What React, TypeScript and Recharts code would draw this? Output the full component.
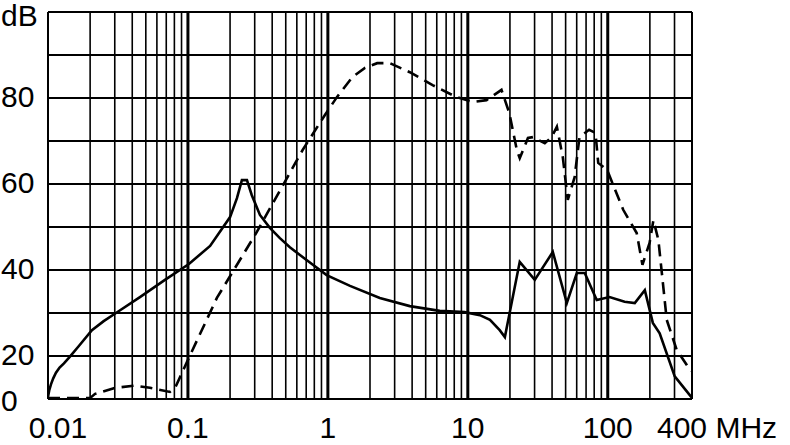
import { LineChart, Line, XAxis, YAxis, CartesianGrid, ReferenceLine } from 'recharts'

// frequencies in MHz, levels in dB
const SOLID_FREQ = [
  0.01, 0.0102, 0.0105, 0.0109, 0.0114, 0.0121, 0.013, 0.0144, 0.0165, 0.0206,
  0.025, 0.0306, 0.0454, 0.0685, 0.1016, 0.144,
  0.2, 0.224, 0.243, 0.264, 0.286, 0.327, 0.385, 0.454, 0.535, 0.685,
  0.98, 1.44, 2.35, 3.85, 6.3, 9.5, 12.2, 14.4, 16.9, 18.4,
  23.5, 30.1, 40.5, 51, 60.1, 68.5, 83.4, 103, 132, 156,
  184, 210, 235, 301, 400,
]
const SOLID_DB = [
  1, 4, 6.8, 9.6, 12.2, 14.6, 16.6, 19.8, 22.2, 26,
  28.1, 30, 33.7, 37.7, 41.4, 45.6,
  52.3, 56.7, 60.9, 60.9, 57.4, 52.8, 49.8, 47.4, 45.3, 42.6,
  38.8, 36.3, 33.5, 31.6, 30.5, 30.2, 29.5, 28.4, 26, 24.4,
  41.9, 37.7, 44.2, 32.3, 39.3, 39.3, 33, 33.7, 32.6, 32.3,
  35.3, 27.7, 25.3, 10.5, 0.5,
]

const DASHED_FREQ = [
  0.01, 0.02, 0.0217, 0.0301, 0.0418, 0.0535, 0.0744, 0.081, 0.103, 0.161,
  0.31, 0.66, 0.95, 1.16, 1.5, 1.84, 2.25, 2.77, 3.85, 5.6,
  8.3, 10.9, 13.6, 17.4, 19.8, 22.4, 23.5, 26.9, 29.2, 35.5,
  39.7, 43.3, 47.7, 51.8, 58, 62.8, 73.6, 81.7, 85.5, 98.9,
  129, 161, 177, 199, 212, 230, 264, 311, 385, 400,
]
const DASHED_DB = [
  0.5, 0.5, 2.4, 5.2, 6.2, 5.2, 3.3, 5.2, 20, 33.5,
  48.8, 67.9, 76, 80.2, 84.9, 87, 88.1, 88.1, 86, 83,
  80.2, 79.1, 79.5, 81.9, 76.5, 67.9, 66, 70.7, 70.9, 69.5,
  70.9, 73.3, 66.3, 56.3, 61.6, 70.9, 72.6, 71.9, 64.9, 63.3,
  54, 48.6, 41.2, 46.3, 51.6, 47, 28.4, 21.4, 13.8, 12.9,
]

const X_TICKS = [0.01, 0.1, 1, 10, 100, 400]
const DECADES = [0.1, 1, 10, 100]
const MINOR_LINES = [
  0.02, 0.03, 0.04, 0.05, 0.06, 0.07, 0.08, 0.09,
  0.2, 0.3, 0.4, 0.5, 0.6, 0.7, 0.8, 0.9,
  2, 3, 4, 5, 6, 7, 8, 9,
  20, 30, 40, 50, 60, 70, 80, 90,
  200, 300,
]
// plotted positions; the bottom cell holds 0..20 dB
const Y_TICKS = [10, 20, 30, 40, 50, 60, 70, 80, 90, 100]
const Y_LABELS: Record<number, string> = { 10: '0', 20: '20', 40: '40', 60: '60', 80: '80', 100: 'dB' }

const FONT = '"Liberation Sans", Arial, Helvetica, sans-serif'

// squeeze 0..20 dB into one grid cell
const toPlot = (db: number) => (db >= 20 ? db : 10 + db / 2)

const solidData = SOLID_FREQ.map((f, i) => ({ f, v: toPlot(SOLID_DB[i]) }))
const dashedData = DASHED_FREQ.map((f, i) => ({ f, v: toPlot(DASHED_DB[i]) }))

function XTick({ x, payload }: any) {
  const v = payload.value
  if (v === 400) {
    return (
      <text x={x - 35} y={438} textAnchor="start" fontSize={30} fontFamily={FONT} fill="#000">
        400 MHz
      </text>
    )
  }
  return (
    <text x={v === 0.01 ? x + 10 : x} y={438} textAnchor="middle" fontSize={30} fontFamily={FONT} fill="#000">
      {String(v)}
    </text>
  )
}

function YTick({ y, payload }: any) {
  const label = Y_LABELS[payload.value]
  if (!label) return <g />
  const dy = payload.value === 10 ? 12 : payload.value === 100 ? 14 : 9
  return (
    <text x={1} y={y + dy} textAnchor="start" fontSize={30} fontFamily={FONT} fill="#000">
      {label}
    </text>
  )
}

export default function App() {
  return (
    <div style={{ position: 'absolute', left: 0, top: 0, background: '#fff' }}>
      <LineChart width={790} height={445} margin={{ top: 12, right: 98, bottom: 0, left: 0 }}>
        <CartesianGrid vertical={false} stroke="#000" strokeWidth={2} />
        <XAxis
          dataKey="f"
          type="number"
          scale="log"
          domain={[0.01, 400]}
          ticks={X_TICKS}
          allowDataOverflow
          height={46}
          tickLine={false}
          axisLine={{ stroke: '#000', strokeWidth: 2 }}
          tick={<XTick />}
          interval={0}
        />
        <YAxis
          type="number"
          domain={[10, 100]}
          ticks={Y_TICKS}
          width={48}
          tickLine={false}
          axisLine={{ stroke: '#000', strokeWidth: 2 }}
          tick={<YTick />}
          interval={0}
        />
        {MINOR_LINES.map((f) => (
          <ReferenceLine key={`m-${f}`} x={f} stroke="#000" strokeWidth={1.6} />
        ))}
        {DECADES.map((f) => (
          <ReferenceLine key={`d-${f}`} x={f} stroke="#000" strokeWidth={3} />
        ))}
        <ReferenceLine x={400} stroke="#000" strokeWidth={2} />
        <Line
          data={solidData}
          dataKey="v"
          type="linear"
          stroke="#000"
          strokeWidth={2.6}
          dot={false}
          isAnimationActive={false}
        />
        <Line
          data={dashedData}
          dataKey="v"
          type="linear"
          stroke="#000"
          strokeWidth={2.6}
          strokeDasharray="12 7"
          dot={false}
          isAnimationActive={false}
        />
      </LineChart>
    </div>
  )
}
